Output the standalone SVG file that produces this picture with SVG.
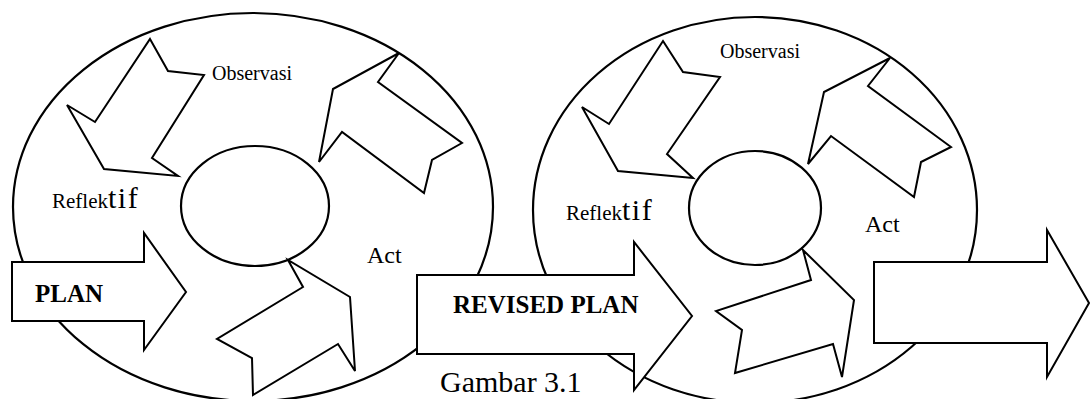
<svg xmlns="http://www.w3.org/2000/svg" width="1091" height="399" viewBox="0 0 1091 399">
<style>
.o{fill:none;stroke:#000;stroke-width:2.2}
.s{fill:#fff;stroke:#000;stroke-width:2;stroke-linejoin:miter}
text{font-family:"Liberation Serif","Times New Roman",serif;fill:#000}
.b{font-weight:bold;font-size:25px}
</style>
<rect width="1091" height="399" fill="#fff"/>
<g id="cycle1">
<ellipse class="o" cx="253" cy="207" rx="240" ry="194"/>
<ellipse class="o" cx="255" cy="206" rx="74" ry="60"/>
</g>
<g id="cycle2">
<ellipse class="o" cx="755" cy="210" rx="222" ry="193"/>
<ellipse class="o" cx="755" cy="208" rx="66" ry="57"/>
</g>
<g id="connectors">
<polygon id="obs1" class="s" points="150,39 168,71 204,75 152,158 178,176 104,169 67,105 95,122"/>
<polygon id="act1" class="s" points="399,53 378,82 462,143 432,160 424,193 342,132 319,162 333,89"/>
<polygon id="ref1" class="s" points="288,260 303,287 217,339 252,358 253,395 338,344 355,371 350,297"/>
<polygon id="obs2" class="s" points="663,41 683,72 720,77 667,154 693,178 618,171 582,107 609,124"/>
<polygon id="act2" class="s" points="890,58 868,86 951,147 921,162 914,197 831,136 808,164 824,92"/>
<polygon id="ref2" class="s" points="803,250 811,280 716,311 742,330 735,373 833,344 842,377 854,300"/>
</g>
<g id="plan">
<polygon class="s" points="12,262 144,262 144,233 186,292 144,350 144,321 12,321"/>
<text class="b" x="35" y="302" font-family="Liberation Serif, serif">PLAN</text>
</g>
<g id="revised-plan">
<polygon class="s" points="417,275 634,275 634,242 692,316 634,390 634,354 417,354"/>
<text class="b" x="453" y="313" font-family="Liberation Serif, serif">REVISED PLAN</text>
</g>
<g id="next-plan">
<polygon class="s" points="874,262 1047,262 1047,230 1089,303 1047,377 1047,343 874,343"/>
</g>
<g id="labels1">
<text x="212" y="80" font-size="20" font-family="Liberation Serif, serif">Observasi</text>
<text x="52" y="208" font-size="21" font-family="Liberation Serif, serif">Reflek<tspan font-size="30" letter-spacing="1.5" font-family="Liberation Serif, serif">tif</tspan></text>
<text x="367" y="263" font-size="24" font-family="Liberation Serif, serif">Act</text>
</g>
<g id="labels2">
<text x="720" y="58" font-size="20" font-family="Liberation Serif, serif">Observasi</text>
<text x="566" y="220" font-size="21" font-family="Liberation Serif, serif">Reflek<tspan font-size="30" letter-spacing="1.5" font-family="Liberation Serif, serif">tif</tspan></text>
<text x="865" y="232" font-size="24" font-family="Liberation Serif, serif">Act</text>
</g>
<g id="caption">
<text x="440" y="392" font-size="30" font-family="Liberation Serif, serif">Gambar 3.1</text>
</g>
</svg>
